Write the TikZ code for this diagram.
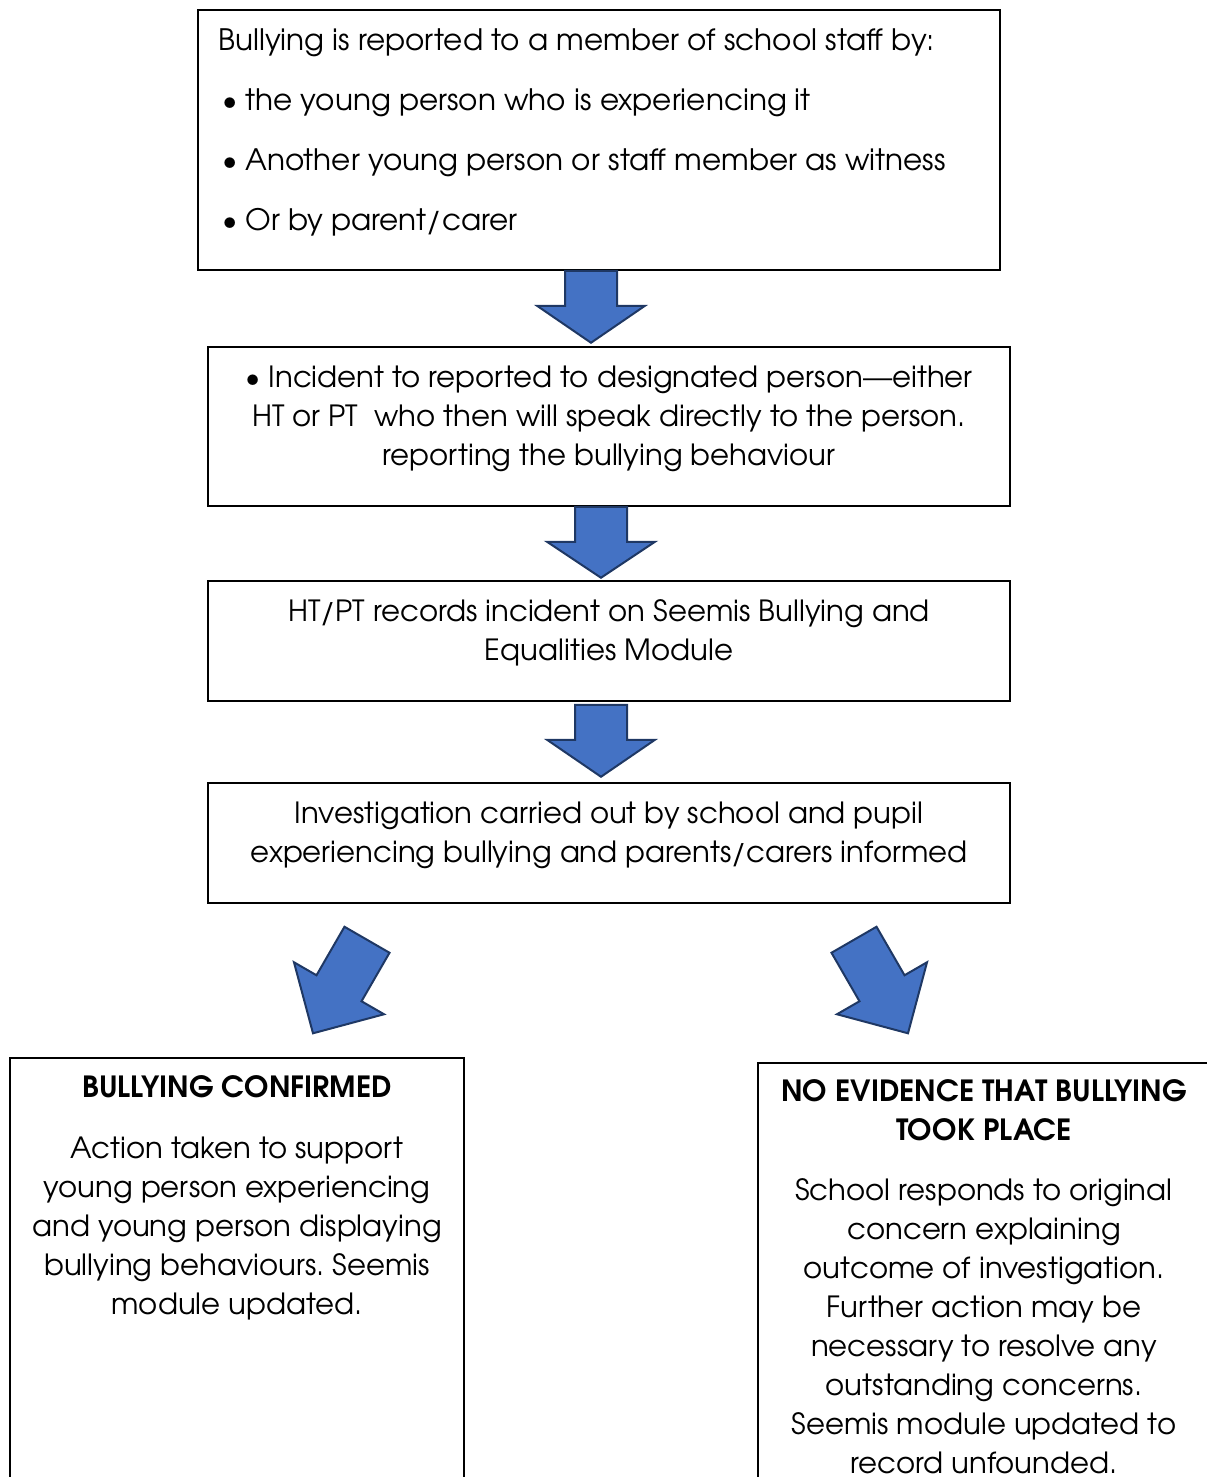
\documentclass[tikz,border=0pt]{standalone}
\usepackage{fontspec}
\setmainfont{texgyreadventor}[Extension=.otf,UprightFont=*-regular,BoldFont=*-bold]
\usetikzlibrary{positioning}
\frenchspacing
\definecolor{arrowblue}{HTML}{4472C4}
\definecolor{arrowline}{HTML}{1F3864}
% block arrow: start, angle, half head width, shaft length, total length
\newcommand{\blockarrow}[5]{%
  \draw[bigarrow,shift={#1},rotate=#2] (-26,0) -- (26,0) -- (26,#4) -- (#3,#4)
    -- (0,#5) -- (-#3,#4) -- (-26,#4) -- cycle;}
\newcommand{\bul}{\hspace*{2pt}\makebox[11.5pt][l]{•}}

\begin{document}
\begin{tikzpicture}[x=0.5pt,y=-0.5pt]
\tikzstyle{box}=[draw,line width=0.75pt,inner sep=0pt];
\tikzstyle{txt}=[inner sep=0pt,align=center,font=\fontsize{14.6}{19.5}\selectfont];
\tikzstyle{head}=[inner sep=0pt,align=center,font=\fontsize{14.6}{19.5}\selectfont\bfseries];
\tikzstyle{bigarrow}=[fill=arrowblue,draw=arrowline,line width=1pt,line join=miter];

\useasboundingbox (0,0) rectangle (1206,1477);

% boxes
\node[box,minimum width=401pt,minimum height=130pt] (report) at (599,140) {};
\node[box,minimum width=401pt,minimum height=79.5pt] (designated) at (609,426.5) {};
\node[box,minimum width=401pt,minimum height=60pt] (record) at (609,641) {};
\node[box,minimum width=401pt,minimum height=60pt] (invest) at (609,843) {};
\node[box,minimum width=227pt,minimum height=250pt,anchor=north] (confirmed) at (237,1057) {};
\node[box,minimum width=226pt,minimum height=250pt,anchor=north] (noevidence) at (984,1062) {};

% texts
\node[txt,align=left,anchor=north west,font=\fontsize{14.75}{30}\selectfont] (reporttxt) at (218,28)
  {Bullying is reported to a member of school staff by:\\
   \bul the young person who is experiencing it\\
   \bul Another young person or staff member as witness\\
   \bul Or by parent/carer};
\node[txt] (designatedtxt) at (609,419)
  {• Incident to reported to designated person—either\\
   HT or PT\ \ who then will speak directly to the person.\\
   reporting the bullying behaviour};
\node[txt] (recordtxt) at (609,632.5)
  {HT/PT records incident on Seemis Bullying and\\ Equalities Module};
\node[txt] (investtxt) at (609,835.5)
  {Investigation carried out by school and pupil\\
   experiencing bullying and parents/carers informed};
\node[head] (confhead) at (237,1087) {BULLYING CONFIRMED};
\node[txt] (confbody) at (237,1228)
  {Action taken to support\\ young person experiencing\\ and young person displaying\\
   bullying behaviours. Seemis\\ module updated.};
\node[head] (nohead) at (984,1110.5) {NO EVIDENCE THAT BULLYING\\ TOOK PLACE};
\node[txt] (nobody) at (984,1326.5)
  {School responds to original\\ concern explaining\\ outcome of investigation.\\
   Further action may be\\ necessary to resolve any\\ outstanding concerns.\\
   Seemis module updated to\\ record unfounded.};

% arrows
\blockarrow{([xshift=-4pt]report.south)}{0}{54}{35}{72}
\blockarrow{([xshift=-4pt]designated.south)}{0}{54}{35}{71}
\blockarrow{([xshift=-4pt,yshift=-1.5pt]record.south)}{0}{54}{35}{72}
\blockarrow{([xshift=-121pt,yshift=-18pt]invest.south)}{-30}{52}{56}{108}
\blockarrow{([xshift=122.5pt,yshift=-18pt]invest.south)}{30}{52}{56}{108}
\end{tikzpicture}
\end{document}
